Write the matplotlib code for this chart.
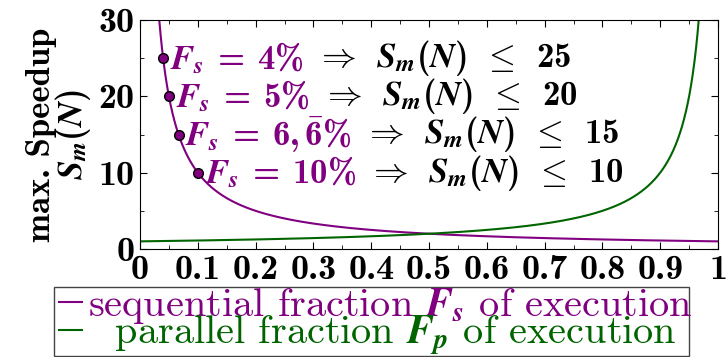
import numpy as np
import matplotlib
matplotlib.use("Agg")
import matplotlib.pyplot as plt
from matplotlib.ticker import MultipleLocator
from matplotlib.patches import Rectangle

plt.rcParams['mathtext.fontset'] = 'custom'
plt.rcParams['mathtext.rm'] = 'cmb10'
plt.rcParams['mathtext.bf'] = 'cmb10'
plt.rcParams['mathtext.it'] = 'STIXGeneral:italic:bold'
plt.rcParams['axes.formatter.use_mathtext'] = True

# data
fraction = np.linspace(0.001, 0.999, 2000)
point_fs = [0.04, 0.05, 1/15, 0.10]
point_speedup = [25, 20, 15, 10]
point_fs_labels = [r'$F_s \;=\; 4\%$', r'$F_s \;=\; 5\%$', r'$F_s \;=\; 6,\bar{6}\%$', r'$F_s \;=\; 10\%$']
point_bound_labels = [r'$\Rightarrow\;\; S_m(N) \;\;\leq\;\; 25$', r'$\Rightarrow\;\; S_m(N) \;\;\leq\;\; 20$',
                      r'$\Rightarrow\;\; S_m(N) \;\;\leq\;\; 15$', r'$\Rightarrow\;\; S_m(N) \;\;\leq\;\; 10$']
x_ticks = [0, 0.1, 0.2, 0.3, 0.4, 0.5, 0.6, 0.7, 0.8, 0.9, 1]
x_tick_labels = ['0', '0.1', '0.2', '0.3', '0.4', '0.5', '0.6', '0.7', '0.8', '0.9', '1']
y_ticks = [0, 10, 20, 30]
series_labels = [r'sequential fraction $F_s$ of execution', r'  parallel fraction $F_p$ of execution']

PURPLE = '#800080'
GREEN = '#006400'

fig = plt.figure(figsize=(7.26, 3.57), dpi=100)
ax = fig.add_axes([140/726, (357-249)/357, 578/726, (249-20)/357])

seq = 1.0 / fraction
par = 1.0 / (1.0 - fraction)
l1, = ax.plot(fraction, seq, color=PURPLE, lw=1.5, label=series_labels[0])
l2, = ax.plot(fraction, par, color=GREEN, lw=1.5, label=series_labels[1])
ax.plot(point_fs, point_speedup, 'o', color=PURPLE, mec='black', mew=1.0, ms=7, zorder=5)

for fs, sp, lab1, lab2 in zip(point_fs, point_speedup, point_fs_labels, point_bound_labels):
    t1 = ax.annotate(lab1, xy=(fs, sp), xytext=(5, 0), textcoords='offset points',
                     color=PURPLE, fontsize=25, va='center', ha='left')
    ax.annotate(lab2, xy=(1, 0.5), xycoords=t1, xytext=(9, 0), textcoords='offset points',
                color='black', fontsize=25, va='center', ha='left')

ax.set_xlim(0, 1)
ax.set_ylim(0, 30)
ax.set_xticks(x_ticks)
ax.set_xticklabels(x_tick_labels)
ax.set_yticks(y_ticks)
ax.set_yticklabels([str(v) for v in y_ticks])
ax.xaxis.set_minor_locator(MultipleLocator(0.05))
ax.yaxis.set_minor_locator(MultipleLocator(5))
ax.tick_params(which='both', direction='in', top=True, right=True)
ax.tick_params(which='major', length=5, labelsize=26, pad=4)
ax.tick_params(which='minor', length=3)
for lab in ax.get_xticklabels() + ax.get_yticklabels():
    lab.set_family('cmb10')

ax.set_ylabel('max. Speedup\n' + r'$S_m(N)$', fontsize=25, family='cmb10', labelpad=4,
              linespacing=0.85)

# legend frame drawn as a rectangle in figure pixels
fig.patches.append(Rectangle((54/726, 1/357), (689-54)/726, (356-287)/357,
                             transform=fig.transFigure, facecolor='white',
                             edgecolor='#444444', linewidth=1.0, zorder=1))
leg = fig.legend(handles=[l1, l2], labels=series_labels, loc='lower left',
                 bbox_to_anchor=(54/726, -6/357), borderaxespad=0,
                 prop={'family': 'cmr10', 'size': 29},
                 handlelength=0.57, handletextpad=0.15, borderpad=0.12, labelspacing=-0.3,
                 frameon=False)
leg.set_zorder(2)
for t, c in zip(leg.get_texts(), [PURPLE, GREEN]):
    t.set_color(c)

fig.savefig('out.png', dpi=100)
